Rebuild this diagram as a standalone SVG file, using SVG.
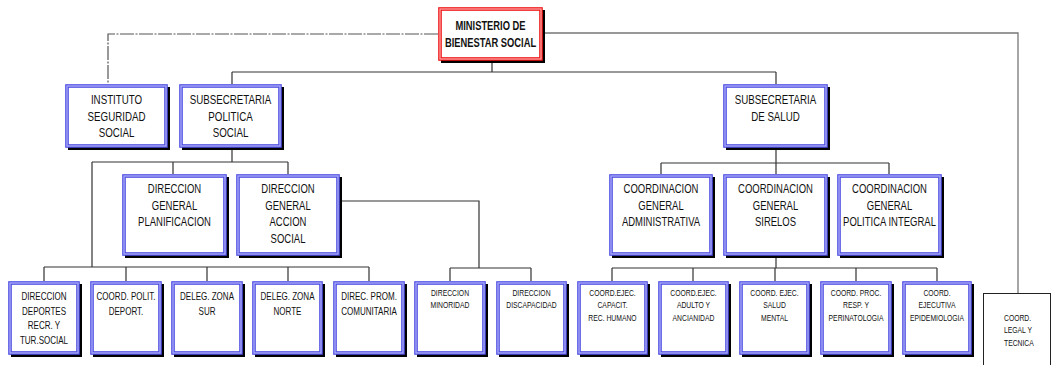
<svg xmlns="http://www.w3.org/2000/svg" width="1055" height="365" viewBox="0 0 1055 365">
<style>
.sh{fill:#000}
.bx{fill:#fff;stroke:#4a4ae2;stroke-width:3.6}
.bi{fill:none;stroke:#a8a8f7;stroke-width:1.4}
.rx{fill:#fff;stroke:#ee1111;stroke-width:3.6}
.ri{fill:none;stroke:#ff9a9a;stroke-width:1.4}
text{font-family:"Liberation Sans",Arial,sans-serif;fill:#111;text-anchor:middle}
.t1{font-size:12.5px}
.t2{font-size:11px}
.t3{font-size:8.5px}
.tb{font-size:13px;font-weight:bold}
.ln{fill:none;stroke:#333;stroke-width:1.2}
</style>
<g id="connectors">
<path class="ln" d="M492,60V72M232,72H776M232,72V84M776,72V84"/>
<path class="ln" d="M232,148V162M92,162H288M173,162V174M288,162V174M92,162V267"/>
<path class="ln" d="M44,267H369M44,267V281M126,267V281M207,267V281M288,267V281M369,267V281"/>
<path class="ln" d="M340,201H479V268M450,268H531M450,268V281M531,268V281"/>
<path class="ln" d="M776,148V163M661,163H889M661,163V174M776,163V174M889,163V174"/>
<path class="ln" d="M776,256V268M612,268H937M612,268V281M693,268V281M775,268V281M856,268V281M937,268V281"/>
<path fill="none" stroke="#555" stroke-width="1.2" stroke-dasharray="14,1.5,2,1.5" d="M438,34H108V84"/>
<path fill="none" stroke="#777" stroke-width="1.3" d="M543,33H1018V293"/>
</g>
<g id="ministerio">
<rect class="sh" x="441" y="10" width="104" height="53"/>
<rect class="rx" x="440" y="9" width="101" height="50"/>
<rect class="ri" x="440" y="9" width="101" height="50"/>
<g transform="translate(490.5,0) scale(0.72,1)"><text class="tb" x="0" y="30">MINISTERIO  DE</text><text class="tb" x="0" y="47">BIENESTAR SOCIAL</text></g>
</g>
<g id="instituto">
<rect class="sh" x="68" y="87" width="102" height="63"/>
<rect class="bx" x="67" y="86" width="99" height="60"/>
<rect class="bi" x="67" y="86" width="99" height="60"/>
<g transform="translate(116.5,0) scale(0.78,1)"><text class="t1" x="0" y="104">INSTITUTO</text><text class="t1" x="0" y="121">SEGURIDAD</text><text class="t1" x="0" y="137.5">SOCIAL</text></g>
</g>
<g id="subsec-politica">
<rect class="sh" x="182" y="87" width="102" height="63"/>
<rect class="bx" x="181" y="86" width="99" height="60"/>
<rect class="bi" x="181" y="86" width="99" height="60"/>
<g transform="translate(230.5,0) scale(0.78,1)"><text class="t1" x="0" y="104">SUBSECRETARIA</text><text class="t1" x="0" y="121">POLITICA</text><text class="t1" x="0" y="137.5">SOCIAL</text></g>
</g>
<g id="subsec-salud">
<rect class="sh" x="726" y="87" width="104" height="63"/>
<rect class="bx" x="725" y="86" width="101" height="60"/>
<rect class="bi" x="725" y="86" width="101" height="60"/>
<g transform="translate(775.5,0) scale(0.78,1)"><text class="t1" x="0" y="104">SUBSECRETARIA</text><text class="t1" x="0" y="121">DE SALUD</text></g>
</g>
<g id="dg-planificacion">
<rect class="sh" x="125" y="177" width="104" height="81"/>
<rect class="bx" x="124" y="176" width="101" height="78"/>
<rect class="bi" x="124" y="176" width="101" height="78"/>
<g transform="translate(174.5,0) scale(0.76,1)"><text class="t1" x="0" y="193">DIRECCION</text><text class="t1" x="0" y="210">GENERAL</text><text class="t1" x="0" y="226.5">PLANIFICACION</text></g>
</g>
<g id="dg-accion-social">
<rect class="sh" x="239" y="177" width="103" height="81"/>
<rect class="bx" x="238" y="176" width="100" height="78"/>
<rect class="bi" x="238" y="176" width="100" height="78"/>
<g transform="translate(288,0) scale(0.76,1)"><text class="t1" x="0" y="193">DIRECCION</text><text class="t1" x="0" y="210">GENERAL</text><text class="t1" x="0" y="226.5">ACCION</text><text class="t1" x="0" y="243">SOCIAL</text></g>
</g>
<g id="cg-administrativa">
<rect class="sh" x="612" y="177" width="103" height="81"/>
<rect class="bx" x="611" y="176" width="100" height="78"/>
<rect class="bi" x="611" y="176" width="100" height="78"/>
<g transform="translate(661,0) scale(0.76,1)"><text class="t1" x="0" y="193">COORDINACION</text><text class="t1" x="0" y="210">GENERAL</text><text class="t1" x="0" y="226.5">ADMINISTRATIVA</text></g>
</g>
<g id="cg-sirelos">
<rect class="sh" x="726" y="177" width="104" height="81"/>
<rect class="bx" x="725" y="176" width="101" height="78"/>
<rect class="bi" x="725" y="176" width="101" height="78"/>
<g transform="translate(775.5,0) scale(0.76,1)"><text class="t1" x="0" y="193">COORDINACION</text><text class="t1" x="0" y="210">GENERAL</text><text class="t1" x="0" y="226.5">SIRELOS</text></g>
</g>
<g id="cg-politica-integral">
<rect class="sh" x="840" y="177" width="104" height="81"/>
<rect class="bx" x="839" y="176" width="101" height="78"/>
<rect class="bi" x="839" y="176" width="101" height="78"/>
<g transform="translate(889.5,0) scale(0.76,1)"><text class="t1" x="0" y="193">COORDINACION</text><text class="t1" x="0" y="210">GENERAL</text><text class="t1" x="0" y="226.5">POLITICA INTEGRAL</text></g>
</g>
<g id="dir-deportes">
<rect class="sh" x="11" y="284" width="71" height="73"/>
<rect class="bx" x="10" y="283" width="68" height="70"/>
<rect class="bi" x="10" y="283" width="68" height="70"/>
<g transform="translate(44,0) scale(0.73,1)"><text class="t2" x="0" y="300">DIRECCION</text><text class="t2" x="0" y="314.7">DEPORTES</text><text class="t2" x="0" y="329.4">RECR. Y</text><text class="t2" x="0" y="344">TUR.SOCIAL</text></g>
</g>
<g id="coord-polit-deport">
<rect class="sh" x="93" y="284" width="71" height="73"/>
<rect class="bx" x="92" y="283" width="68" height="70"/>
<rect class="bi" x="92" y="283" width="68" height="70"/>
<g transform="translate(126,0) scale(0.73,1)"><text class="t2" x="0" y="300">COORD. POLIT.</text><text class="t2" x="0" y="314.7">DEPORT.</text></g>
</g>
<g id="deleg-sur">
<rect class="sh" x="174" y="284" width="71" height="73"/>
<rect class="bx" x="173" y="283" width="68" height="70"/>
<rect class="bi" x="173" y="283" width="68" height="70"/>
<g transform="translate(207,0) scale(0.73,1)"><text class="t2" x="0" y="300">DELEG. ZONA</text><text class="t2" x="0" y="314.7">SUR</text></g>
</g>
<g id="deleg-norte">
<rect class="sh" x="255" y="284" width="70" height="73"/>
<rect class="bx" x="254" y="283" width="67" height="70"/>
<rect class="bi" x="254" y="283" width="67" height="70"/>
<g transform="translate(287.5,0) scale(0.73,1)"><text class="t2" x="0" y="300">DELEG. ZONA</text><text class="t2" x="0" y="314.7">NORTE</text></g>
</g>
<g id="direc-prom-comunitaria">
<rect class="sh" x="336" y="284" width="71" height="73"/>
<rect class="bx" x="335" y="283" width="68" height="70"/>
<rect class="bi" x="335" y="283" width="68" height="70"/>
<g transform="translate(369,0) scale(0.73,1)"><text class="t2" x="0" y="300">DIREC. PROM.</text><text class="t2" x="0" y="314.7">COMUNITARIA</text></g>
</g>
<g id="dir-minoridad">
<rect class="sh" x="417" y="284" width="71" height="73"/>
<rect class="bx" x="416" y="283" width="68" height="70"/>
<rect class="bi" x="416" y="283" width="68" height="70"/>
<g transform="translate(450,0) scale(0.8,1)"><text class="t3" x="0" y="296">DIRECCION</text><text class="t3" x="0" y="308.5">MINORIDAD</text></g>
</g>
<g id="dir-discapacidad">
<rect class="sh" x="499" y="284" width="70" height="73"/>
<rect class="bx" x="498" y="283" width="67" height="70"/>
<rect class="bi" x="498" y="283" width="67" height="70"/>
<g transform="translate(531.5,0) scale(0.8,1)"><text class="t3" x="0" y="296">DIRECCION</text><text class="t3" x="0" y="308.5">DISCAPACIDAD</text></g>
</g>
<g id="ce-capacit">
<rect class="sh" x="580" y="284" width="70" height="73"/>
<rect class="bx" x="579" y="283" width="67" height="70"/>
<rect class="bi" x="579" y="283" width="67" height="70"/>
<g transform="translate(612.5,0) scale(0.8,1)"><text class="t3" x="0" y="296">COORD.EJEC.</text><text class="t3" x="0" y="308.5">CAPACIT.</text><text class="t3" x="0" y="321">REC. HUMANO</text></g>
</g>
<g id="ce-adulto">
<rect class="sh" x="661" y="284" width="70" height="73"/>
<rect class="bx" x="660" y="283" width="67" height="70"/>
<rect class="bi" x="660" y="283" width="67" height="70"/>
<g transform="translate(693.5,0) scale(0.8,1)"><text class="t3" x="0" y="296">COORD.EJEC.</text><text class="t3" x="0" y="308.5">ADULTO  Y</text><text class="t3" x="0" y="321">ANCIANIDAD</text></g>
</g>
<g id="ce-salud-mental">
<rect class="sh" x="742" y="284" width="70" height="73"/>
<rect class="bx" x="741" y="283" width="67" height="70"/>
<rect class="bi" x="741" y="283" width="67" height="70"/>
<g transform="translate(774.5,0) scale(0.8,1)"><text class="t3" x="0" y="296">COORD. EJEC.</text><text class="t3" x="0" y="308.5">SALUD</text><text class="t3" x="0" y="321">MENTAL</text></g>
</g>
<g id="cp-perinatologia">
<rect class="sh" x="823" y="284" width="71" height="73"/>
<rect class="bx" x="822" y="283" width="68" height="70"/>
<rect class="bi" x="822" y="283" width="68" height="70"/>
<g transform="translate(856,0) scale(0.8,1)"><text class="t3" x="0" y="296">COORD. PROC.</text><text class="t3" x="0" y="308.5">RESP.  Y</text><text class="t3" x="0" y="321">PERINATOLOGIA</text></g>
</g>
<g id="ce-epidemiologia">
<rect class="sh" x="905" y="284" width="69" height="73"/>
<rect class="bx" x="904" y="283" width="66" height="70"/>
<rect class="bi" x="904" y="283" width="66" height="70"/>
<g transform="translate(937,0) scale(0.8,1)"><text class="t3" x="0" y="296">COORD.</text><text class="t3" x="0" y="308.5">EJECUTIVA</text><text class="t3" x="0" y="321">EPIDEMIOLOGIA</text></g>
</g>
<g id="coord-legal">
<rect x="983.5" y="293.5" width="67" height="80" fill="#fff" stroke="#222" stroke-width="1"/>
<g transform="translate(1004,0) scale(0.8,1)"><text class="t3" x="0" y="321" style="text-anchor:start">COORD.</text><text class="t3" x="0" y="333.5" style="text-anchor:start">LEGAL Y</text><text class="t3" x="0" y="346" style="text-anchor:start">TECNICA</text></g>
</g>
</svg>
